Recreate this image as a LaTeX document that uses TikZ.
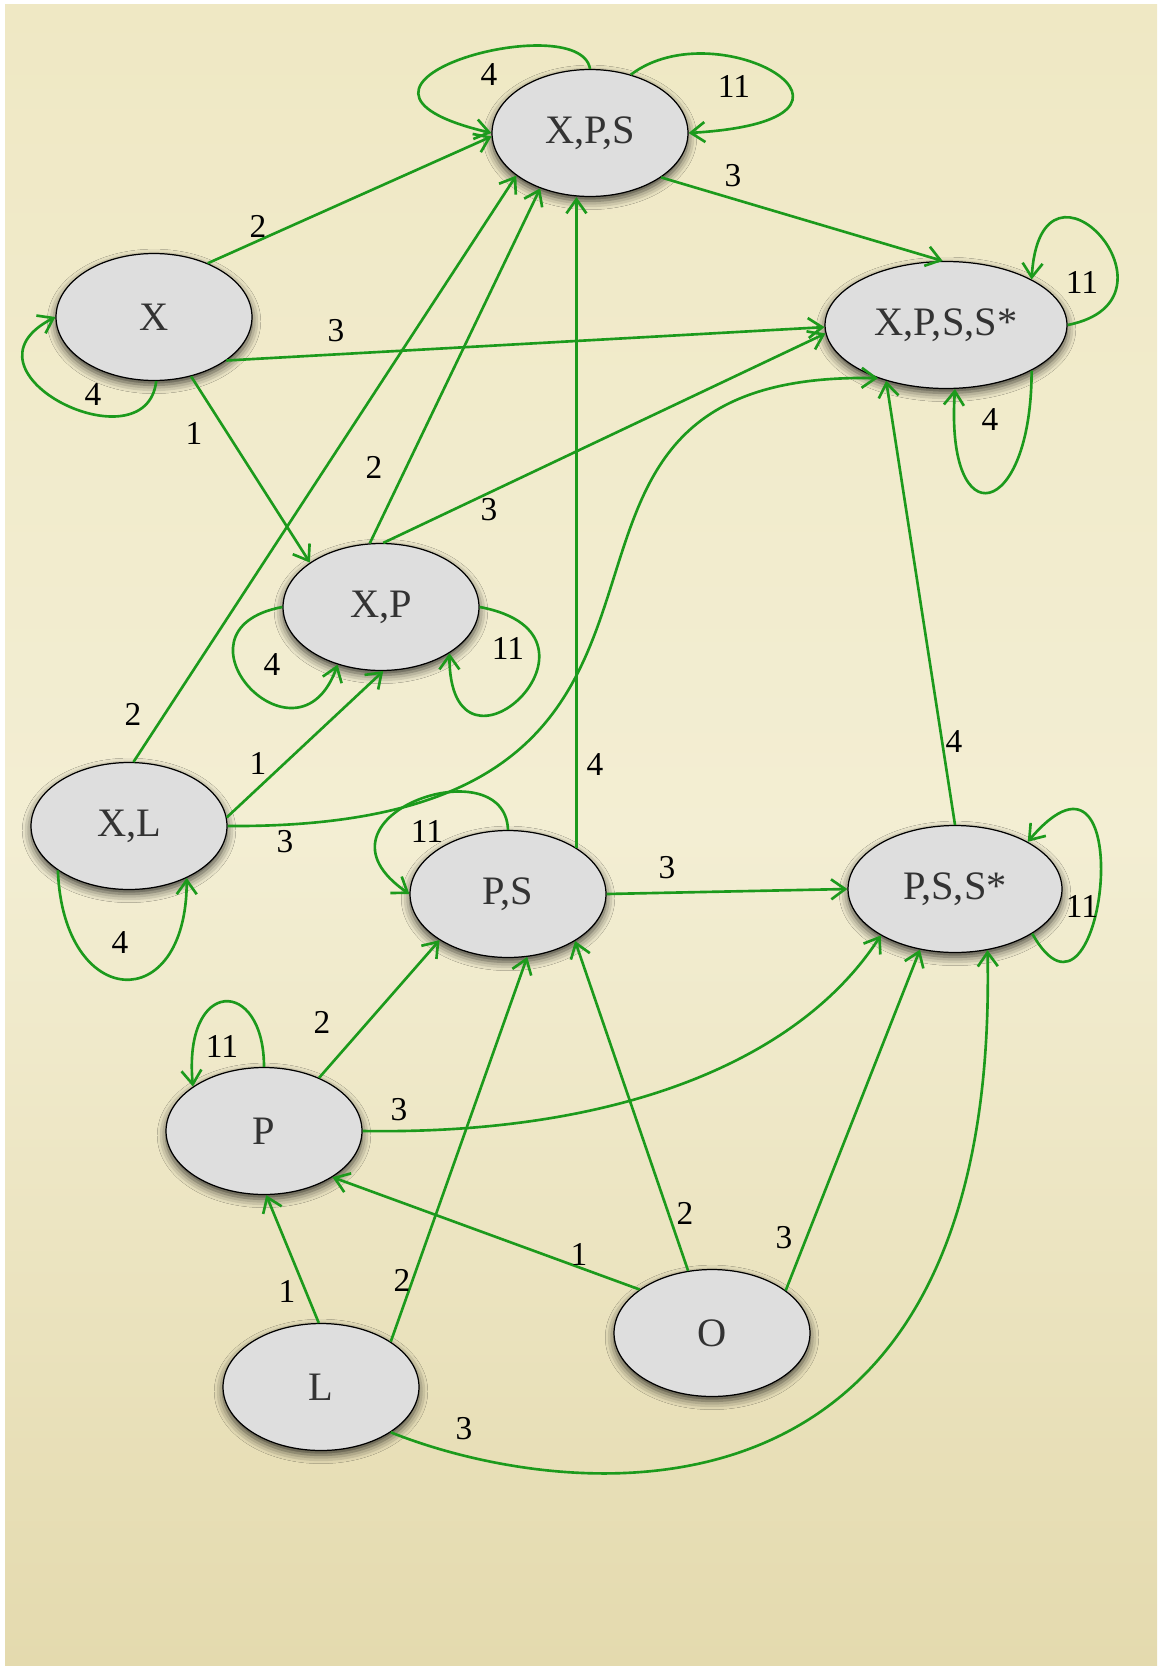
\documentclass[tikz,border=0pt]{standalone}
\usepackage{fontspec}
\setmainfont{Liberation Serif}
\usetikzlibrary{arrows.meta,shapes.geometric,shadows.blur}
\definecolor{edgeGreen}{HTML}{1C9A1C}
\definecolor{stateGray}{HTML}{DEDEDE}
\definecolor{paperTop}{HTML}{EFE8C4}
\definecolor{paperMid}{HTML}{F3EED3}
\definecolor{paperBot}{HTML}{E4DAAE}

\begin{document}
\begin{tikzpicture}[x=0.02cm,y=0.02cm,
  ell/.style={ellipse,draw=black,line width=0.7pt,fill=stateGray,minimum width=3.92cm,minimum height=2.54cm,
    font=\fontsize{23}{26}\selectfont,text=black!80,
    blur shadow={shadow xshift=0pt,shadow yshift=-2.5pt,shadow blur radius=5pt,shadow opacity=75}},
  lbl/.style={font=\fontsize{19}{21}\selectfont},
  arr/.style={-{Straight Barb[length=2.8mm,width=4mm]},line width=1.5pt,edgeGreen}
]
\useasboundingbox (0,0) rectangle (1157,-1666);
% paper
\fill[white] (0,0) rectangle (1157,-1666);
\shade[top color=paperTop,bottom color=paperBot,middle color=paperMid] (5,-5) rectangle (1157,-1666);

% states
\node[ell] (xps) at (590,-133) {X,P,S};
\node[ell] (x) at (154,-317) {X};
\node[ell,minimum width=4.84cm] (xpss) at (946,-325) {X,P,S,S*};
\node[ell] (xp) at (381,-607) {X,P};
\node[ell] (xl) at (129,-826) {X,L};
\node[ell] (ps) at (508,-894) {P,S};
\node[ell,minimum width=4.28cm] (pss) at (955,-889) {P,S,S*};
\node[ell] (p) at (264,-1131) {P};
\node[ell] (o) at (712,-1333) {O};
\node[ell] (l) at (321,-1387) {L};

% out of X
\draw[arr] (x.45) -- (xps.182);
\draw[arr] (x.-31) -- (xpss.181);
\draw[arr] (x.-58) -- (xp.148);
\draw[arr] (x.-88) .. controls +(-10,-88) and +(-107,-55) .. (x.180);

% out of X,P,S
\draw[arr] (xps.90) .. controls +(-10,63) and +(-203,48) .. (xps.180);
\draw[arr] (xps.55) .. controls +(88,67) and +(222,13) .. (xps.0);
\draw[arr] (xps.-32) -- (xpss.93);

% out of X,P,S,S*
\draw[arr] (xpss.0) .. controls +(127,25) and +(9,150) .. (xpss.28);
\draw[arr] (xpss.-28) .. controls +(0,-150) and +(-10,-150) .. (xpss.-82);

% out of X,P
\draw[arr] (xp.100) -- (xps.228);
\draw[arr] (xp.88) -- (xpss.184);
\draw[arr] (xp.180) .. controls +(-122,-23) and +(-40,-113) .. (xp.233);
\draw[arr] (xp.0) .. controls +(150,-28) and +(0,-150) .. (xp.-34);

% out of X,L
\draw[arr] (xl.86) -- (xps.210);
\draw[arr] (xl.5) -- (xp.-88);
\draw[arr] (xl.0) .. controls (800,-830) and (450,-370) .. (xpss.218);
\draw[arr] (xl.212) .. controls +(5,-140) and +(0,-140) .. (xl.-42);

% out of P,S
\draw[arr] (ps.34) -- (ps.34 |- xps.south);
\draw[arr] (ps.0) -- (pss.180);
\draw[arr] (ps.90) .. controls +(-3,85) and +(-112,77) .. (ps.180);

% out of P,S,S*
\draw[arr] (pss.90) -- (xpss.223);
\draw[arr] (pss.-30) .. controls +(72,-128) and +(115,135) .. (pss.33);

% out of P
\draw[arr] (p.44) -- (ps.214);
\draw[arr] (p.0) .. controls (620,-1135) and (800,-1060) .. (pss.212);
\draw[arr] (p.90) .. controls +(0,90) and +(-10,110) .. (p.148);

% out of O
\draw[arr] (o.149) -- (p.-34);
\draw[arr] (o.111) -- (ps.-35);
\draw[arr] (o.30) -- (pss.240);

% out of L
\draw[arr] (l.92) -- (p.-88);
\draw[arr] (l.33) -- (ps.-73);
\draw[arr] (l.-33) .. controls (560,-1500) and (1000,-1560) .. (pss.-62);

% weights
\node[lbl] (wx2) at (258,-226) {2};
\node[lbl] (wx3) at (336,-331) {3};
\node[lbl] (wx1) at (194,-433) {1};
\node[lbl] (wx4) at (93,-395) {4};
\node[lbl] (wxps4) at (489,-75) {4};
\node[lbl] (wxps11) at (734,-86) {11};
\node[lbl] (wxps3) at (733,-176) {3};
\node[lbl] (wxpss11) at (1082,-282) {11};
\node[lbl] (wxpss4) at (990,-420) {4};
\node[lbl] (wxp2) at (374,-467) {2};
\node[lbl] (wxp3) at (489,-510) {3};
\node[lbl] (wxp4) at (272,-665) {4};
\node[lbl] (wxp11) at (508,-648) {11};
\node[lbl] (wxl2) at (133,-714) {2};
\node[lbl] (wxl1) at (258,-763) {1};
\node[lbl] (wxl3) at (285,-842) {3};
\node[lbl] (wxl4) at (120,-943) {4};
\node[lbl] (wps4) at (595,-765) {4};
\node[lbl] (wps3) at (667,-868) {3};
\node[lbl] (wps11) at (427,-831) {11};
\node[lbl] (wpss4) at (954,-742) {4};
\node[lbl] (wpss11) at (1082,-906) {11};
\node[lbl] (wp2) at (322,-1022) {2};
\node[lbl] (wp3) at (399,-1110) {3};
\node[lbl] (wp11) at (222,-1046) {11};
\node[lbl] (wo1) at (579,-1254) {1};
\node[lbl] (wo2) at (685,-1213) {2};
\node[lbl] (wo3) at (784,-1238) {3};
\node[lbl] (wl1) at (287,-1291) {1};
\node[lbl] (wl2) at (402,-1280) {2};
\node[lbl] (wl3) at (464,-1429) {3};
\end{tikzpicture}
\end{document}
